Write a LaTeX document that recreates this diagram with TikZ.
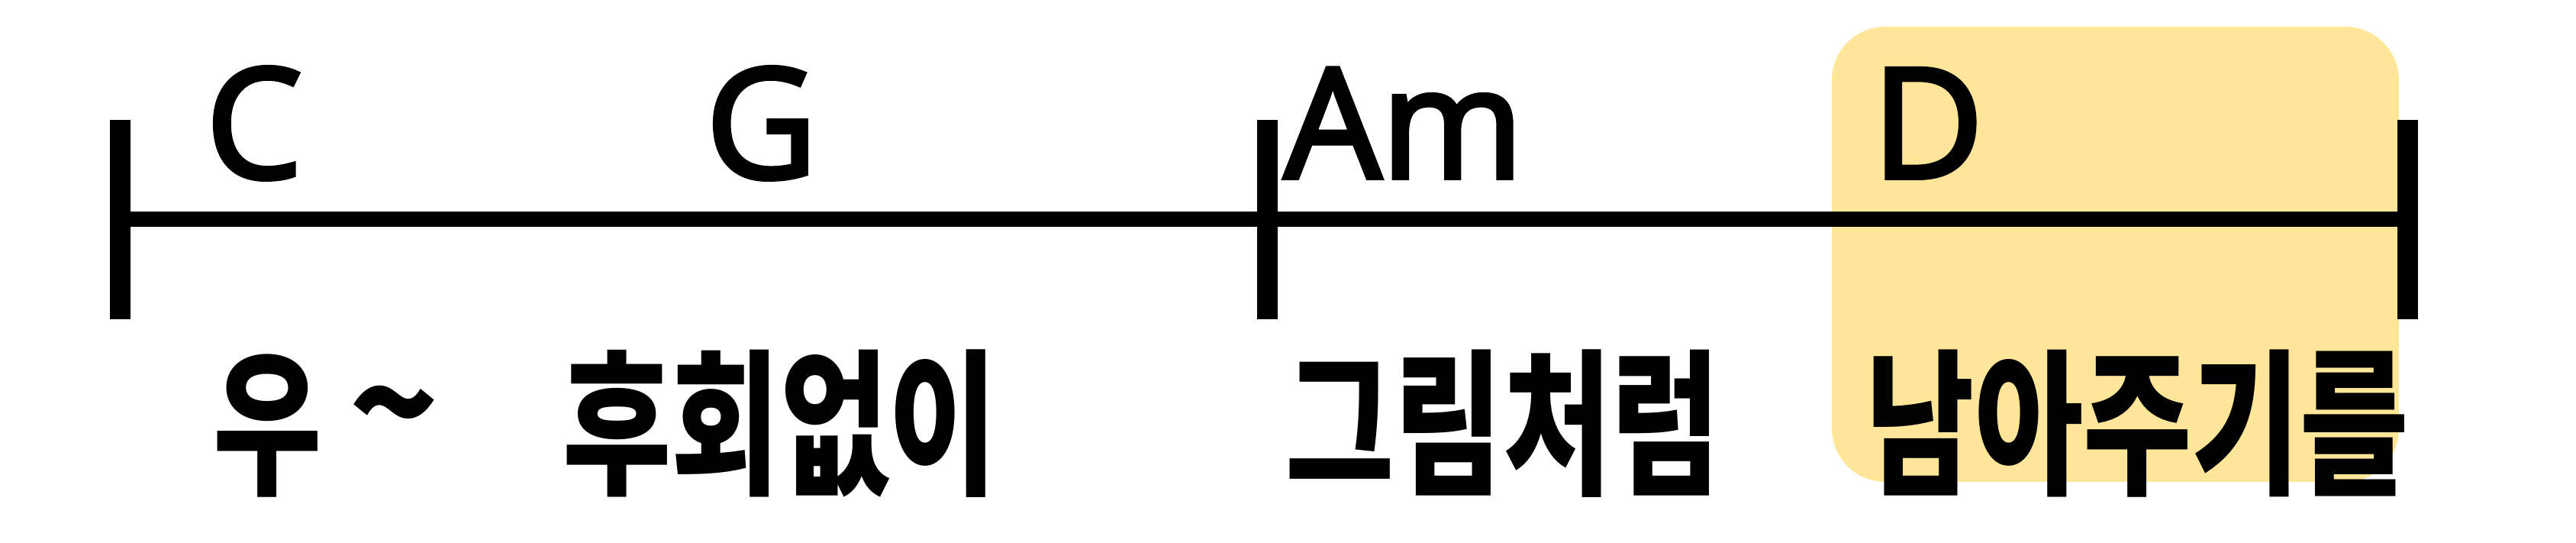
\documentclass[tikz,border=0pt]{standalone}
\usepackage{fontspec}
\setmainfont{Open Sans}
\newfontfamily\chordfont{Open Sans}[FakeBold=3]
\newfontfamily\kor{Noto Sans CJK KR}
\usetikzlibrary{calc}
\definecolor{hilite}{RGB}{255,230,153}

\begin{document}
\begin{tikzpicture}[
  chord/.style={font=\chordfont\fontsize{57}{60}\selectfont,inner sep=0pt,anchor=base west},
  lyric/.style={font=\kor\bfseries\fontsize{44}{48}\selectfont,inner sep=0pt,anchor=base west,
    yscale=1.33,transform shape},
  bar/.style={line width=.27cm}]
\useasboundingbox (0,0) rectangle (33.75,7.11);
\fill[hilite,rounded corners=.7cm] (24,.8) rectangle (31.43,6.76);
\coordinate (L) at (1.57,4.24);
\coordinate (M) at (16.60,4.24);
\coordinate (R) at (31.54,4.24);
\draw[line width=.2cm] (L) -- (R);
\foreach \p in {L,M,R}
  \draw[bar] ($(\p)+(0,1.3)$) -- ($(\p)+(0,-1.31)$);
% chords
\node[chord] (C) at (2.69,4.78) {C};
\node[chord] (G) at (9.24,4.78) {G};
\node[chord] (Am) at (16.82,4.78) {Am};
\node[chord] (D) at (24.52,4.78) {D};
% lyrics
\coordinate (lyr) at (0,.79);
\node[lyric] (w1) at ($(lyr)+(2.79,0)$) {우 \raisebox{.21cm}{\scalebox{1.25}[1]{\textasciitilde}}};
\node[lyric] (w2) at ($(lyr)+(7.37,0)$) {후회없이};
\node[lyric] (w3) at ($(lyr)+(16.84,0)$) {그림처럼};
\node[lyric] (w4) at ($(lyr)+(24.44,0)$) {남아주기를};
\end{tikzpicture}
\end{document}
